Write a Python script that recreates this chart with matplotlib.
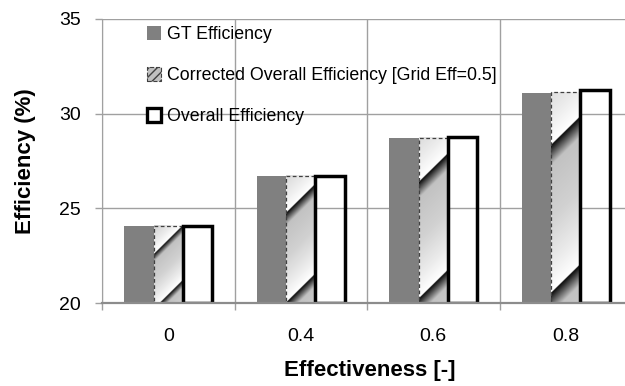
import numpy as np
import matplotlib
matplotlib.use('Agg')
import matplotlib.pyplot as plt
from matplotlib.patches import Patch

plt.rcParams['font.family'] = ['Liberation Sans', 'DejaVu Sans']

# data
categories = ['0', '0.4', '0.6', '0.8']
gt_eff = [24.07, 26.71, 28.69, 31.07]
corrected_eff = [24.07, 26.71, 28.74, 31.14]
overall_eff = [24.07, 26.70, 28.78, 31.23]
labels = ['GT Efficiency', 'Corrected Overall Efficiency [Grid Eff=0.5]', 'Overall Efficiency']

fig = plt.figure(figsize=(6.25, 3.86), dpi=100)
# axes right edge runs past the picture, like the reference crop
ax = fig.add_axes([0.1632, 0.215, 0.848, 0.7358])

x = np.arange(len(categories))
w = 1 / 4.5
ymin = 20

grid_c = '#a0a0a0'
ax.set_xlim(-0.5, len(categories) - 0.5)
ax.set_ylim(20, 35)

b1 = ax.bar(x - w, np.array(gt_eff) - ymin, w, bottom=ymin, color='#808080', zorder=2)
b2 = ax.bar(x, np.array(corrected_eff) - ymin, w, bottom=ymin, facecolor='none',
            edgecolor='#404040', linestyle=(0, (3, 2)), linewidth=0.9, zorder=4)
b3 = ax.bar(x + w, np.array(overall_eff) - ymin, w, bottom=ymin, facecolor='none',
            edgecolor='black', linewidth=2.5, zorder=4)

# diagonal gradient fill for the corrected bars
fig.canvas.draw()
p0 = ax.transData.transform((0, 20))
p1 = ax.transData.transform((1, 21))
px_cat = p1[0] - p0[0]
px_unit = p1[1] - p0[1]
for r, v in zip(b2, corrected_eff):
    x0 = r.get_x()
    bw = r.get_width()
    hpx = (v - ymin) * px_unit
    wpx = bw * px_cat
    ny = int(hpx * 3)
    nx = int(wpx * 3)
    yy, xx = np.mgrid[0:ny, 0:nx]
    ypx = (yy + 0.5) / 3
    xpx = (xx + 0.5) / 3
    s = (ypx + xpx - wpx / 2) / hpx
    ph = ((s - 0.18) / 0.7) % 1
    img = np.interp(ph, [0, 0.14, 0.5, 0.8, 1.0], [0.02, 0.76, 0.82, 0.92, 1.0])
    ax.imshow(img, cmap='gray', vmin=0, vmax=1, extent=[x0, x0 + bw, ymin, v],
              aspect='auto', origin='upper', zorder=3, interpolation='bilinear')

ax.set_xlim(-0.5, len(categories) - 0.5)
ax.set_ylim(20, 35)

ax.set_xticks(x)
ax.set_xticklabels(categories)
ax.set_xticks(np.arange(len(categories) + 1) - 0.5, minor=True)
ax.set_yticks([20, 25, 30, 35])
ax.tick_params(axis='x', which='major', length=0, pad=18, labelsize=14)
ax.tick_params(axis='x', which='minor', length=5, width=1, color=grid_c, direction='out')
ax.tick_params(axis='y', length=5, width=1, color=grid_c, pad=10, labelsize=14)
ax.grid(True, which='minor', axis='x', color=grid_c, lw=1, zorder=0)
ax.grid(True, which='major', axis='y', color=grid_c, lw=1, zorder=0)
ax.set_axisbelow(True)
for sp in ['top', 'right']:
    ax.spines[sp].set_visible(False)
ax.spines['left'].set_color(grid_c)
ax.spines['bottom'].set_color('#8c8c8c')
ax.spines['bottom'].set_linewidth(1.6)
ax.spines['bottom'].set_zorder(5)

ax.set_xlabel('Effectiveness [-]', fontsize=16, fontweight='bold')
ax.set_ylabel('Efficiency (%)', fontsize=16, fontweight='bold')
ax.xaxis.set_label_coords(0.506, -0.2)
ax.yaxis.set_label_coords(-0.124, 0.5)

handles = [Patch(facecolor='#808080'),
           Patch(facecolor='#c0c0c0', hatch='////', edgecolor='#404040', linestyle='--', lw=0.8),
           Patch(facecolor='white', edgecolor='black', lw=2.4)]
ax.legend(handles, labels, loc='upper left', bbox_to_anchor=(147 / 625, 1 - 26 / 386),
          bbox_transform=fig.transFigure, frameon=False, fontsize=12.8,
          handlelength=0.8, handleheight=0.8, handletextpad=0.3,
          labelspacing=1.36, borderpad=0, borderaxespad=0)

fig.savefig('out.png', dpi=100)
